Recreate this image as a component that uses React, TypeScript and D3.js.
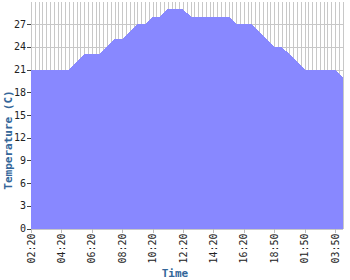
import React from "react";
import * as d3 from "d3";

const times: string[] = [
  "02:20", "02:50", "03:20", "03:50", "04:20", "04:50", "05:20", "05:50",
  "06:20", "06:50", "07:20", "07:50", "08:20", "08:50", "09:20", "09:50",
  "10:20", "10:50", "11:20", "11:50", "12:20", "12:50", "13:20", "13:50",
  "14:20", "14:50", "15:20", "15:50", "16:20", "16:50", "17:20", "18:20",
  "18:50", "19:20", "19:50", "20:20", "01:50", "02:20", "02:50", "03:20",
  "03:50", "04:20",
];

const temps: number[] = [
  21, 21, 21, 21, 21, 21, 22, 23, 23, 23, 24, 25, 25, 26, 27, 27,
  28, 28, 29, 29, 29, 28, 28, 28, 28, 28, 28, 27, 27, 27, 26, 25,
  24, 24, 23, 22, 21, 21, 21, 21, 21, 20,
];

const yTicks: number[] = [0, 3, 6, 9, 12, 15, 18, 21, 24, 27];
const labelEvery = 4;

const W = 350;
const H = 280;
const left = 31;
const right = 342.7;
const top = 1.5;
const bottom = 228.5;

export default function App() {
  const x = d3.scaleLinear().domain([0, times.length - 1]).range([left, right]);
  const y = d3.scaleLinear().domain([0, 30]).range([bottom, top]);

  const area = d3
    .area<number>()
    .x((_, i) => x(i))
    .y0(y(0))
    .y1((d) => y(d));

  const vGrid = d3.range(0, times.length - 1 + 0.01, 0.5);
  const xTickIdx = d3.range(0, times.length, labelEvery);
  const mono = "'DejaVu Sans Mono', monospace";

  return (
    <svg
      width={W}
      height={H}
      style={{ position: "absolute", left: 0, top: 0, background: "#fff" }}
    >
      <g shapeRendering="crispEdges">
        {vGrid.map((v) => (
          <line
            key={"v" + v}
            x1={Math.round(x(v)) + 0.5}
            x2={Math.round(x(v)) + 0.5}
            y1={top}
            y2={bottom}
            stroke="#c8c8c8"
          />
        ))}
        {yTicks.map((t) => (
          <line
            key={"h" + t}
            x1={left}
            x2={right}
            y1={Math.round(y(t)) + 0.5}
            y2={Math.round(y(t)) + 0.5}
            stroke="#c8c8c8"
          />
        ))}
      </g>
      <path d={area(temps) ?? ""} fill="#8888ff" shapeRendering="crispEdges" />
      <g shapeRendering="crispEdges">
        {yTicks.map((t) => (
          <g key={"yt" + t}>
            <line
              x1={left - 4}
              x2={left}
              y1={Math.round(y(t)) + 0.5}
              y2={Math.round(y(t)) + 0.5}
              stroke="#444"
            />
          </g>
        ))}
        {xTickIdx.map((i) => (
          <line
            key={"xt" + i}
            x1={Math.round(x(i)) + 0.5}
            x2={Math.round(x(i)) + 0.5}
            y1={bottom}
            y2={bottom + 4}
            stroke="#bbbbbb"
          />
        ))}
      </g>
      {yTicks.map((t) => (
        <text
          key={"yl" + t}
          x={left - 5}
          y={y(t)}
          dy="0.35em"
          textAnchor="end"
          fontFamily={mono}
          fontSize={10}
          fill="#222"
        >
          {t}
        </text>
      ))}
      {xTickIdx.map((i) => (
        <text
          key={"xl" + i}
          transform={`translate(${x(i)},${bottom + 5}) rotate(-90)`}
          dy="0.35em"
          textAnchor="end"
          fontFamily={mono}
          fontSize={10}
          fill="#222"
        >
          {times[i]}
        </text>
      ))}
      <text
        transform={`translate(12,140) rotate(-90)`}
        textAnchor="middle"
        fontFamily={mono}
        fontWeight="bold"
        fontSize={11}
        fill="#336699"
      >
        Temperature (C)
      </text>
      <text
        x={175}
        y={277}
        textAnchor="middle"
        fontFamily={mono}
        fontWeight="bold"
        fontSize={11}
        fill="#336699"
      >
        Time
      </text>
    </svg>
  );
}
